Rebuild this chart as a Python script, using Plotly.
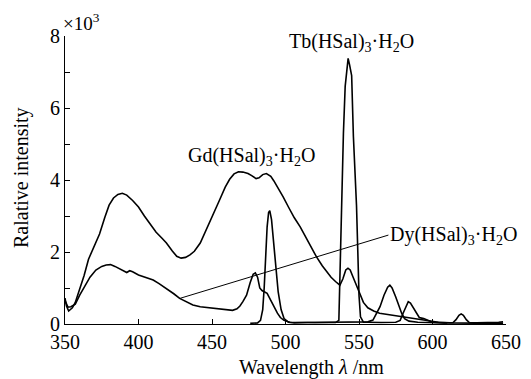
import plotly.graph_objects as go

# ---------------- data (intensity in units of 10^3) ----------------
gd_wl = [350, 351, 352.5, 355, 357, 360, 363, 366, 370, 373.5, 377, 380, 383, 386, 389,
         392, 396, 400, 404, 408, 412, 416, 419, 423, 426, 429, 432, 435, 438, 442, 446,
         450, 455, 459, 462, 465, 468, 471, 474.5, 477, 480, 482, 484.5, 487, 490, 492,
         494, 498.4, 502, 506, 510, 514, 518, 521, 525, 528, 531, 534, 537, 539, 541,
         542.5, 544, 546, 548, 550.5, 553, 556, 560, 564, 570, 576, 582, 588, 596, 604,
         612, 620, 635, 648]
gd_val = [0.72, 0.5, 0.36, 0.45, 0.6, 0.95, 1.35, 1.8, 2.2, 2.5, 2.95, 3.3, 3.5, 3.6, 3.63,
          3.58, 3.43, 3.25, 3.0, 2.78, 2.55, 2.38, 2.25, 2.03, 1.88, 1.83, 1.85, 1.92, 2.02,
          2.25, 2.6, 2.95, 3.43, 3.8, 4.02, 4.17, 4.23, 4.22, 4.18, 4.12, 4.04, 4.06, 4.15,
          4.18, 4.1, 3.98, 3.85, 3.53, 3.25, 2.95, 2.7, 2.4, 2.1, 1.87, 1.62, 1.45, 1.3,
          1.18, 1.08, 1.25, 1.5, 1.55, 1.5, 1.3, 1.1, 0.8, 0.6, 0.45, 0.36, 0.3, 0.26, 0.22,
          0.19, 0.14, 0.09, 0.05, 0.03, 0.02, 0.02, 0.02]

tb_wl = [476, 481, 483, 484.5, 485.5, 486.5, 487.5, 488.5, 489.3, 490.5, 492, 493.5, 495,
         497, 499, 502, 506, 515, 525, 534, 536.3, 537, 537.6, 538.4, 539.4, 540.6, 541.8,
         542.6, 543.6, 545, 546.2, 547.3, 548.3, 549.2, 550, 551, 553, 556, 565, 575, 578,
         580, 582, 583.5, 585, 587, 589, 591, 594, 597, 600, 608, 614, 616, 618, 619.5,
         621, 623, 625, 630, 640, 645, 648]
tb_val = [0.02, 0.03, 0.1, 0.4, 1.0, 1.9, 2.7, 3.1, 3.15, 2.9, 2.2, 1.5, 0.9, 0.4, 0.15,
          0.05, 0.03, 0.04, 0.03, 0.04, 0.1, 1.2, 2.9, 3.8, 5.3, 6.6, 7.2, 7.38, 7.2, 6.9,
          5.2, 4.2, 3.3, 2.0, 0.8, 0.2, 0.05, 0.05, 0.04, 0.05, 0.1, 0.3, 0.5, 0.62, 0.58,
          0.45, 0.3, 0.18, 0.15, 0.1, 0.05, 0.03, 0.04, 0.12, 0.24, 0.28, 0.24, 0.12, 0.04,
          0.03, 0.03, 0.05, 0.06]

dy_wl = [350, 351, 352, 354, 357, 360, 364, 367, 371, 375, 378, 381, 384, 387, 390, 392,
         394, 396, 400, 405, 410, 414, 419, 424, 428, 432, 437, 442, 447, 451, 455, 460,
         464, 467, 469, 471, 473.5, 476, 478, 479.5, 481, 482.5, 484, 487.5, 490, 492,
         494.5, 496.5, 499, 503, 510, 520, 530, 540, 550, 556, 559.5, 562, 564.3, 567,
         569.5, 571, 572.5, 575, 576.7, 579, 581, 584, 590, 600, 610]
dy_val = [0.65, 0.55, 0.47, 0.48, 0.55, 0.8, 1.1, 1.3, 1.5, 1.6, 1.64, 1.65, 1.6, 1.53,
          1.46, 1.43, 1.48, 1.45, 1.36, 1.3, 1.22, 1.12, 0.99, 0.84, 0.71, 0.62, 0.53, 0.48,
          0.46, 0.44, 0.43, 0.4, 0.38, 0.42, 0.5, 0.62, 0.8, 1.15, 1.38, 1.42, 1.3, 1.0,
          0.93, 0.85, 0.65, 0.48, 0.3, 0.18, 0.1, 0.05, 0.04, 0.04, 0.05, 0.06, 0.06, 0.06,
          0.11, 0.3, 0.48, 0.8, 1.02, 1.08, 1.0, 0.75, 0.57, 0.3, 0.15, 0.08, 0.05, 0.04,
          0.03]

x_ticks = [350, 400, 450, 500, 550, 600, 650]
y_ticks = [0, 2, 4, 6, 8]
labels = {
    "Gd": "Gd(HSal)<sub>3</sub>·H<sub>2</sub>O",
    "Tb": "Tb(HSal)<sub>3</sub>·H<sub>2</sub>O",
    "Dy": "Dy(HSal)<sub>3</sub>·H<sub>2</sub>O",
}
dy_pointer_wl = 428

FONT = "Liberation Serif"

fig = go.Figure()
for wl, val, name in [(gd_wl, gd_val, "Gd"), (tb_wl, tb_val, "Tb"), (dy_wl, dy_val, "Dy")]:
    fig.add_trace(go.Scatter(x=wl, y=val, mode="lines", name=name,
                             line=dict(color="black", width=1.6), showlegend=False))

# the page body has an 8px margin, so the figure is 8px smaller than the window
fig.update_layout(
    template="none",
    width=523, height=371,
    margin=dict(l=57, r=25, t=28, b=55, autoexpand=False),
    paper_bgcolor="white", plot_bgcolor="white",
    font=dict(family=FONT, size=20, color="black"),
    xaxis=dict(range=[350, 650], tickvals=x_ticks, ticks="inside", ticklen=5,
               tickcolor="black", showline=True, linecolor="black", linewidth=1.3,
               showgrid=False, zeroline=False, automargin=False,
               tickfont=dict(family=FONT, size=20)),
    yaxis=dict(range=[0, 8], tickvals=y_ticks, ticks="inside", ticklen=2,
               tickcolor="black", showline=True, linecolor="black", linewidth=1.2,
               showgrid=False, zeroline=False, automargin=False,
               tickfont=dict(family=FONT, size=20),
               minor=dict(dtick=1, ticks="inside", ticklen=5, tickcolor="black")),
)

# titles
fig.add_annotation(text="Ralative intensity", xref="paper", yref="paper",
                   x=-0.0975, y=0.507, textangle=-90, showarrow=False,
                   xanchor="center", yanchor="middle", font=dict(family=FONT, size=20))
fig.add_annotation(text="Wavelength <i>λ</i> /nm", xref="paper", yref="paper",
                   x=0.558, y=-0.152, showarrow=False, xanchor="center",
                   yanchor="middle", font=dict(family=FONT, size=20))
fig.add_annotation(text="×10<sup>3</sup>", xref="paper", yref="paper",
                   x=-0.008, y=1.05, showarrow=False, xanchor="left",
                   yanchor="middle", font=dict(family=FONT, size=19))

# curve labels
fig.add_annotation(text=labels["Gd"], x=477, y=4.64, showarrow=False,
                   xanchor="center", yanchor="middle", font=dict(family=FONT, size=20))
fig.add_annotation(text=labels["Tb"], x=545, y=7.83, showarrow=False,
                   xanchor="center", yanchor="middle", font=dict(family=FONT, size=20))
fig.add_annotation(text=labels["Dy"], x=dy_pointer_wl,
                   y=dy_val[dy_wl.index(dy_pointer_wl)],
                   ax=570, ay=2.47, axref="x", ayref="y",
                   showarrow=True, arrowhead=0, arrowwidth=1, arrowcolor="black",
                   xanchor="left", yanchor="middle", standoff=0, startstandoff=0,
                   font=dict(family=FONT, size=20))

fig.write_html("out.html")
